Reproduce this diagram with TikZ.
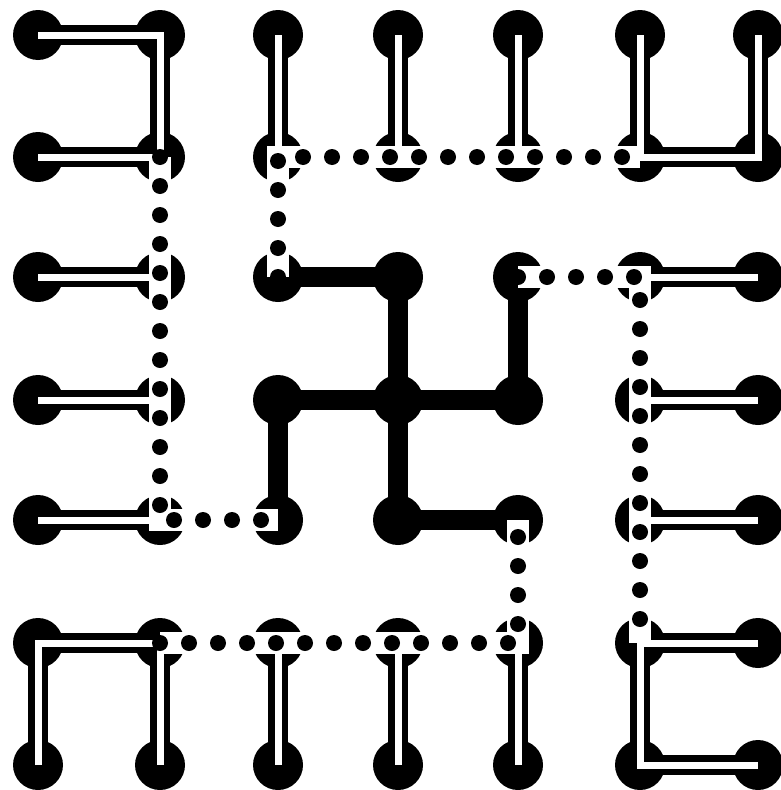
\documentclass[tikz,border=0pt]{standalone}
\begin{document}
\begin{tikzpicture}[x=1pt,y=-1pt,
  dot/.style={circle,fill=black,minimum size=50pt,inner sep=0pt,draw=none},
  heavy/.style={line width=20pt,line join=miter},
  dblout/.style={line width=20pt,line join=miter},
  dblin/.style={white,line width=7pt,line join=miter},
  dotbg/.style={white,line width=22pt,line join=miter},
  dotfg/.style={line width=16pt,line cap=round,dash pattern=on 0pt off 29pt}]
\fill[white] (0,0) rectangle (781,790);
\useasboundingbox (0,0) rectangle (781,790);
\foreach \x [count=\i from 0] in {38,160,278,398,518,640,758}
  \foreach \y [count=\j from 0] in {35,157,277,400,520,643,765}
    \node[dot] (n\i\j) at (\x,\y) {};
% heavy black
\draw[heavy] (n22.center) -- (n32.center);
\draw[heavy] (n32.center) -- (n34.center);
\draw[heavy] (n23.center) -- (n43.center);
\draw[heavy] (n42.center) -- (n43.center);
\draw[heavy] (n23.center) -- (n24.center);
\draw[heavy] (n34.center) -- (n44.center);
% double lines
\foreach \st in {dblout,dblin}{
  \draw[\st] (n00.center) -- (n10.center) -- (n11.center);
  \draw[\st] (n01.center) -- (n11.center);
  \draw[\st] (n20.center) -- (n21.center);
  \draw[\st] (n30.center) -- (n31.center);
  \draw[\st] (n40.center) -- (n41.center);
  \draw[\st] (n50.center) -- (n51.center) -- (n61.center) -- (n60.center);
  \draw[\st] (n02.center) -- (n12.center);
  \draw[\st] (n03.center) -- (n13.center);
  \draw[\st] (n04.center) -- (n14.center);
  \draw[\st] (n52.center) -- (n62.center);
  \draw[\st] (n53.center) -- (n63.center);
  \draw[\st] (n54.center) -- (n64.center);
  \draw[\st] (n06.center) -- (n05.center) -- (n15.center) -- (n16.center);
  \draw[\st] (n25.center) -- (n26.center);
  \draw[\st] (n35.center) -- (n36.center);
  \draw[\st] (n45.center) -- (n46.center);
  \draw[\st] (n65.center) -- (n55.center) -- (n56.center) -- (n66.center);
}
% dotted lines
\foreach \st in {dotbg,dotfg}{
  \draw[\st] (n11.center) -- (n14.center) -- (n24.center);
  \draw[\st] (n22.center) -- (n21.center) -- (n51.center);
  \draw[\st] (n42.center) -- (n52.center) -- (n55.center);
  \draw[\st] (n15.center) -- (n45.center) -- (n44.center);
}
\end{tikzpicture}
\end{document}
